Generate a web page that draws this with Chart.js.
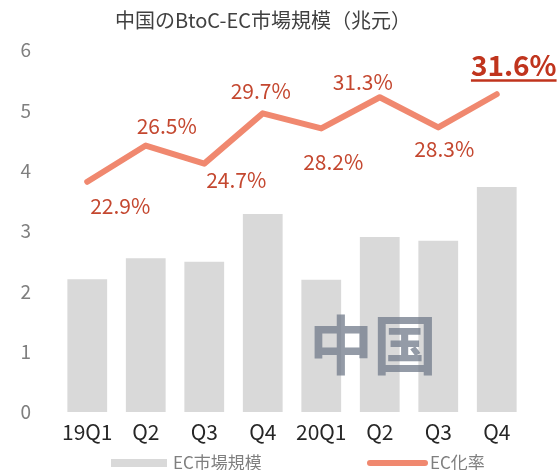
<!DOCTYPE html>
<html>
<head>
<meta charset="utf-8">
<script src="https://cdn.jsdelivr.net/npm/chart.js@4"></script>
<style>
  html, body { margin: 0; padding: 0; background: #fff; }
</style>
</head>
<body>
<canvas id="ecChart" width="558" height="470"></canvas>
<script>
const quarters = ['19Q1', 'Q2', 'Q3', 'Q4', '20Q1', 'Q2', 'Q3', 'Q4'];
const marketSize = [2.20, 2.55, 2.49, 3.28, 2.19, 2.90, 2.84, 3.73]; // 兆元
const ecRate = [22.9, 26.5, 24.7, 29.7, 28.2, 31.3, 28.3, 31.6];     // %
const yTicks = [0, 1, 2, 3, 4, 5, 6];

// hand-placed label offsets (px from the point), as in the original
const labelOffsets = [[33, 24], [21, -20], [32, 16], [-2, -22], [12, 34], [-17, -15], [6, 22], [17, -29]];

const FONT = '"Noto Sans CJK JP", "Noto Sans", sans-serif';

// % labels on the line
const rateLabels = {
    id: 'rateLabels',
    afterDatasetsDraw(chart) {
        const meta = chart.getDatasetMeta(1);
        const ctx = chart.ctx;
        ctx.save();
        ctx.textAlign = 'center';
        ctx.textBaseline = 'middle';
        meta.data.forEach((pt, i) => {
            const last = i === ecRate.length - 1;
            const txt = ecRate[i].toFixed(1) + '%';
            const x = pt.x + labelOffsets[i][0];
            const y = pt.y + labelOffsets[i][1];
            ctx.font = (last ? 'bold 28px ' : '21px ') + FONT;
            ctx.fillStyle = last ? '#C0341D' : '#C4472F';
            ctx.fillText(txt, x, y);
            if (last) {
                const w = ctx.measureText(txt).width;
                ctx.fillRect(x - w / 2, y + 14, w, 2.5);
            }
        });
        ctx.restore();
    }
};

// watermark + legend
const extras = {
    id: 'extras',
    afterDraw(chart) {
        const ctx = chart.ctx;
        ctx.save();
        ctx.font = 'bold 64px ' + FONT;
        ctx.fillStyle = 'rgba(112, 122, 138, 0.75)';
        ctx.textAlign = 'center';
        ctx.textBaseline = 'middle';
        ctx.fillText('中国', 373, 345);

        const ds = chart.data.datasets;
        ctx.font = '17px ' + FONT;
        ctx.fillStyle = '#7F7F7F';
        ctx.textAlign = 'left';
        ctx.fillStyle = ds[0].backgroundColor;
        ctx.fillRect(111, 459, 56, 8);
        ctx.fillStyle = '#7F7F7F';
        ctx.fillText(ds[0].label, 173, 463);

        ctx.strokeStyle = ds[1].borderColor;
        ctx.lineWidth = 6;
        ctx.lineCap = 'round';
        ctx.beginPath();
        ctx.moveTo(370, 463);
        ctx.lineTo(425, 463);
        ctx.stroke();
        ctx.fillText(ds[1].label, 430, 463);
        ctx.restore();
    }
};

const ctx = document.getElementById('ecChart').getContext('2d');
new Chart(ctx, {
    data: {
        labels: quarters,
        datasets: [{
            type: 'bar',
            label: 'EC市場規模',
            data: marketSize,
            backgroundColor: '#D9D9D9',
            barPercentage: 0.68,
            categoryPercentage: 1,
            yAxisID: 'y',
            order: 2
        }, {
            type: 'line',
            label: 'EC化率',
            data: ecRate,
            borderColor: '#F0886F',
            borderWidth: 6,
            borderCapStyle: 'round',
            borderJoinStyle: 'round',
            pointRadius: 0,
            tension: 0,
            yAxisID: 'y1',
            order: 1
        }]
    },
    options: {
        responsive: false,
        animation: false,
        layout: { padding: { right: 32 } },
        plugins: {
            legend: { display: false },
            tooltip: { enabled: false },
            title: {
                display: true,
                text: '中国のBtoC-EC市場規模（兆元）',
                color: '#404040',
                font: { family: FONT, size: 20, weight: 'normal' },
                padding: { top: 8, bottom: 18 }
            }
        },
        scales: {
            x: {
                grid: { display: false, drawTicks: false },
                border: { display: false },
                ticks: { color: '#262626', font: { family: FONT, size: 21 }, padding: 7 },
                afterFit: s => { s.height = 58; }
            },
            y: {
                min: yTicks[0],
                max: yTicks[yTicks.length - 1],
                afterBuildTicks: s => { s.ticks = yTicks.map(v => ({ value: v })); },
                grid: { display: false, drawTicks: false },
                border: { display: false },
                ticks: { color: '#7F7F7F', font: { family: FONT, size: 19 }, padding: 27 },
                afterFit: s => { s.width = 58; }
            },
            y1: {
                display: false,
                min: 0,
                max: 36
            }
        }
    },
    plugins: [rateLabels, extras]
});
</script>
</body>
</html>
